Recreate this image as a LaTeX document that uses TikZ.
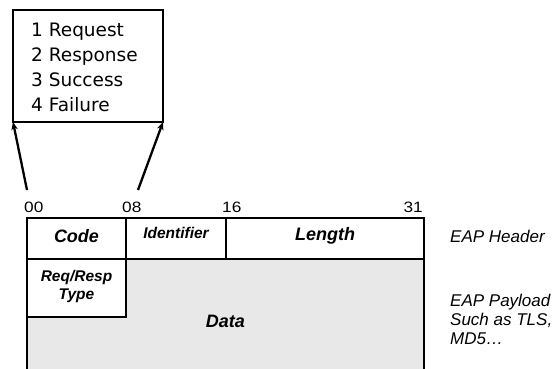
\documentclass[tikz,border=0pt]{standalone}
\usepackage{fontspec}
\setmainfont{Liberation Sans}
\newfontfamily\codefont{DejaVu Sans}
\usetikzlibrary{arrows.meta}

\definecolor{datagray}{RGB}{232,232,232}

\tikzset{
  rule/.style={line width=2pt},
  cell/.style={draw, rule, rectangle, inner sep=0pt, outer sep=0pt, anchor=north west},
  codeline/.style={anchor=base west, inner sep=0pt, font=\codefont\fontsize{18.5}{20}\selectfont},
  hdr/.style={inner sep=0pt, font=\fontsize{18}{20}\selectfont\bfseries\itshape},
  small/.style={inner sep=0pt, align=center, font=\fontsize{15.5}{18}\selectfont\bfseries\itshape},
  bitnum/.style={inner sep=0pt, font=\fontsize{15}{17}\selectfont},
  note/.style={inner sep=0pt, anchor=base west, font=\fontsize{17}{19}\selectfont\itshape},
  pointer/.style={line width=2.3pt, -{Stealth[length=8pt,width=6.5pt]}}
}

\begin{document}
\begin{tikzpicture}[x=1pt, y=-1pt]
  \useasboundingbox (0,0) rectangle (555,369);

  % message code list
  \node[draw, line width=1.6pt, inner sep=0pt, outer sep=0pt, anchor=north west,
        minimum width=150pt, minimum height=112pt] (codes) at (13,10) {};
  \node[codeline] (req)  at (31,37)  {1 Request};
  \node[codeline] (resp) at (31,62)  {2 Response};
  \node[codeline] (succ) at (31,87)  {3 Success};
  \node[codeline] (fail) at (31,112) {4 Failure};

  % bit positions
  \node[bitnum, anchor=base west] (b00) at (24,212)  {\scalebox{1.15}[1]{00}};
  \node[bitnum, anchor=base west] (b08) at (122,212) {\scalebox{1.15}[1]{08}};
  \node[bitnum, anchor=base west] (b16) at (222,212) {\scalebox{1.15}[1]{16}};
  \node[bitnum, anchor=base east] (b31) at (423,212) {\scalebox{1.15}[1]{31}};

  \coordinate (p00) at (27,190);
  \coordinate (p08) at (138,190);
  \coordinate (bottom) at (0,372);

  % packet layout: data area
  \fill[datagray] (126,259) -- (424,259) -- (424,372) -- (27,372) -- (27,317) -- (126,317) -- cycle;

  % header cells
  \node[cell, minimum width=99pt,  minimum height=41pt] (code)  at (27,218)  {};
  \node[cell, minimum width=100pt, minimum height=41pt] (ident) at (126,218) {};
  \node[cell, minimum width=198pt, minimum height=41pt] (len)   at (226,218) {};
  \node[cell, fill=white, minimum width=99pt, minimum height=58pt] (reqtype) at (27,259) {};

  % outer walls of the packet
  \draw[rule] (code.north west) -- (code.north west |- bottom);
  \draw[rule] (len.north east) -- (len.north east |- bottom);

  % field names
  \node[hdr]   (codetxt)  at (76.5,236) {Code};
  \node[small] (identtxt) at (176,233)  {Identifier};
  \node[hdr]   (lentxt)   at (325,236)  {Length};
  \node[small] (reqtxt)   at (76.5,286) {Req/Resp\\Type};
  \node[hdr]   (datatxt)  at (225.5,321) {Data};

  % side notes
  \node[note] (eaphdr) at (450,242) {EAP Header};
  \node[note] (eappl)  at (450,306) {EAP Payload};
  \node[note] (eaptls) at (450,325) {Such as TLS,};
  \node[note] (eapmd)  at (450,344) {MD5\ldots};

  % code field points to the list of codes
  \draw[pointer] (p00) -- (codes.south west);
  \draw[pointer] (p08) -- (codes.south east);
\end{tikzpicture}
\end{document}
